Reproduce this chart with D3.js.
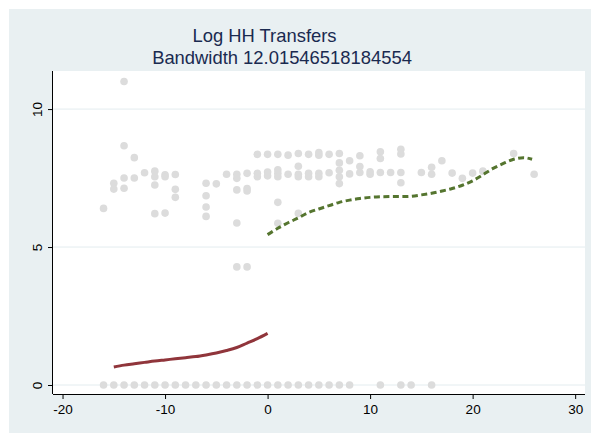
<!DOCTYPE html>
<html><head><meta charset="utf-8">
<script src="https://cdn.jsdelivr.net/npm/d3@7"></script>
<style>body{margin:0;background:#fff}svg{display:block;font-family:"Liberation Sans",Arial,sans-serif}</style>
</head><body><svg id="c" width="591" height="433"></svg>
<script>
// Scatter points (running variable, log HH transfers)
const pointX = [
  -16,-15,-15,-14,-14,-14,-14,-13,-13,-12,-11,-11,-11,-11,-10,-10,-10,-9,-9,-9,
  -6,-6,-6,-6,-5,-4,-3,-3,-3,-3,-3,-2,-2,-2,-2,-1,-1,-1,0,0,0,
  1,1,1,1,1,1,2,2,3,3,3,3,3,4,4,4,5,5,5,5,6,6,7,7,7,7,7,
  8,8,9,9,9,10,10,11,11,11,12,13,13,13,13,15,16,16,17,18,19,20,21,24,26,
  -16,-15,-14,-13,-12,-11,-10,-9,-8,-7,-6,-5,-4,-3,-2,-1,0,1,2,3,4,5,6,7,8,11,13,14,16
];
const pointY = [
  6.40,7.31,7.10,11.0,8.67,7.50,7.13,8.24,7.50,7.69,7.75,7.55,7.25,6.21,7.62,7.55,6.23,7.63,7.09,6.80,
  7.31,6.86,6.45,6.11,7.29,7.64,7.64,7.49,7.07,5.87,4.28,7.67,7.12,7.03,4.28,8.36,7.67,7.55,8.36,7.72,7.58,
  8.36,7.80,7.67,7.55,6.62,5.86,8.33,7.64,8.39,7.93,7.64,7.55,6.22,8.36,7.67,7.55,8.42,8.33,7.67,7.55,8.36,7.69,8.39,8.05,7.78,7.55,7.30,
  8.13,7.65,8.31,7.92,7.70,7.73,7.64,8.45,8.21,7.70,7.70,8.54,8.37,7.70,7.33,7.70,7.89,7.64,8.13,7.68,7.49,7.68,7.75,8.39,7.64,
  0,0,0,0,0,0,0,0,0,0,0,0,0,0,0,0,0,0,0,0,0,0,0,0,0,0,0,0,0
];
// Local fit left of cutoff
const leftX = [-15,-14,-13,-12,-11,-10,-9,-8,-7,-6,-5,-4,-3,-2,-1,0];
const leftY = [0.65,0.72,0.77,0.82,0.87,0.91,0.95,0.99,1.03,1.09,1.16,1.25,1.36,1.52,1.68,1.87];
// Local fit right of cutoff
const rightX = [0,1,2,3,4,5,6,7,8,9,10,11,12,13,14,15,16,17,18,19,20,21,22,23,24,25,25.8];
const rightY = [5.45,5.68,5.88,6.06,6.25,6.38,6.50,6.62,6.70,6.76,6.80,6.82,6.83,6.83,6.84,6.89,6.95,7.03,7.12,7.24,7.40,7.62,7.85,8.03,8.18,8.24,8.18];
const xTicks = [-20,-10,0,10,20,30];
const yTicks = [0,5,10];
const titleLines = ["Log HH Transfers","Bandwidth 12.01546518184554"];

const svg = d3.select("#c");
svg.append("rect").attr("x",9).attr("y",9).attr("width",582).attr("height",424).attr("fill","#e9f0f2");
const L=53,R=585,T=71,B=394;
svg.append("rect").attr("x",L).attr("y",T).attr("width",R-L).attr("height",B-T).attr("fill","#fff");

const x = d3.scaleLinear().domain([-20.93,30.96]).range([L,R]);
const y = d3.scaleLinear().domain([-0.326,11.38]).range([B,T]);

// grid
svg.append("g").selectAll("line").data(yTicks).join("line")
  .attr("x1",L).attr("x2",R).attr("y1",d=>y(d)).attr("y2",d=>y(d))
  .attr("stroke","#e3ecef").attr("stroke-width",1);

// points
svg.append("g").selectAll("circle").data(pointX.map((v,i)=>[v,pointY[i]])).join("circle")
  .attr("cx",d=>x(d[0])).attr("cy",d=>y(d[1])).attr("r",3.8).attr("fill","#dcdcdc");

const line = d3.line().x(d=>x(d[0])).y(d=>y(d[1])).curve(d3.curveCatmullRom);
svg.append("path").datum(leftX.map((v,i)=>[v,leftY[i]])).attr("d",line)
  .attr("fill","none").attr("stroke","#90353b").attr("stroke-width",3);
svg.append("path").datum(rightX.map((v,i)=>[v,rightY[i]])).attr("d",line)
  .attr("fill","none").attr("stroke","#55752f").attr("stroke-width",3).attr("stroke-dasharray","6,3.5");

// axes
const xa = d3.axisBottom(x).tickValues(xTicks).tickSize(5).tickPadding(3).tickFormat(d3.format("d"));
const gx = svg.append("g").attr("transform",`translate(0,${B})`).call(xa);
gx.select(".domain").attr("d",`M${L},0.5H${R}`).attr("stroke","#000");
gx.selectAll("line").attr("stroke","#000");
gx.selectAll("text").attr("font-size",13.5).attr("fill","#000").attr("font-family","Liberation Sans, Arial, sans-serif").attr("dy","0.9em").text(d=>d<0?"-"+Math.abs(d):d);

const ya = d3.axisLeft(y).tickValues(yTicks).tickSize(5).tickFormat(d3.format("d"));
const gy = svg.append("g").attr("transform",`translate(${L},0)`).call(ya);
gy.select(".domain").attr("d",`M-0.5,${T}V${B}`).attr("stroke","#000");
gy.selectAll("line").attr("stroke","#000");
gy.selectAll("text").attr("font-size",13.5).attr("fill","#000").attr("font-family","Liberation Sans, Arial, sans-serif")
  .attr("x",0).attr("y",0).attr("dy",0).attr("text-anchor","middle")
  .attr("transform","translate(-11,0) rotate(-90)");

// title
svg.append("text").attr("x",264.5).attr("y",42).attr("text-anchor","middle").attr("font-size",18.4).attr("fill","#1a2a50").text(titleLines[0]);
svg.append("text").attr("x",282).attr("y",64).attr("text-anchor","middle").attr("font-size",18.4).attr("fill","#1a2a50").text(titleLines[1]);
</script></body></html>
